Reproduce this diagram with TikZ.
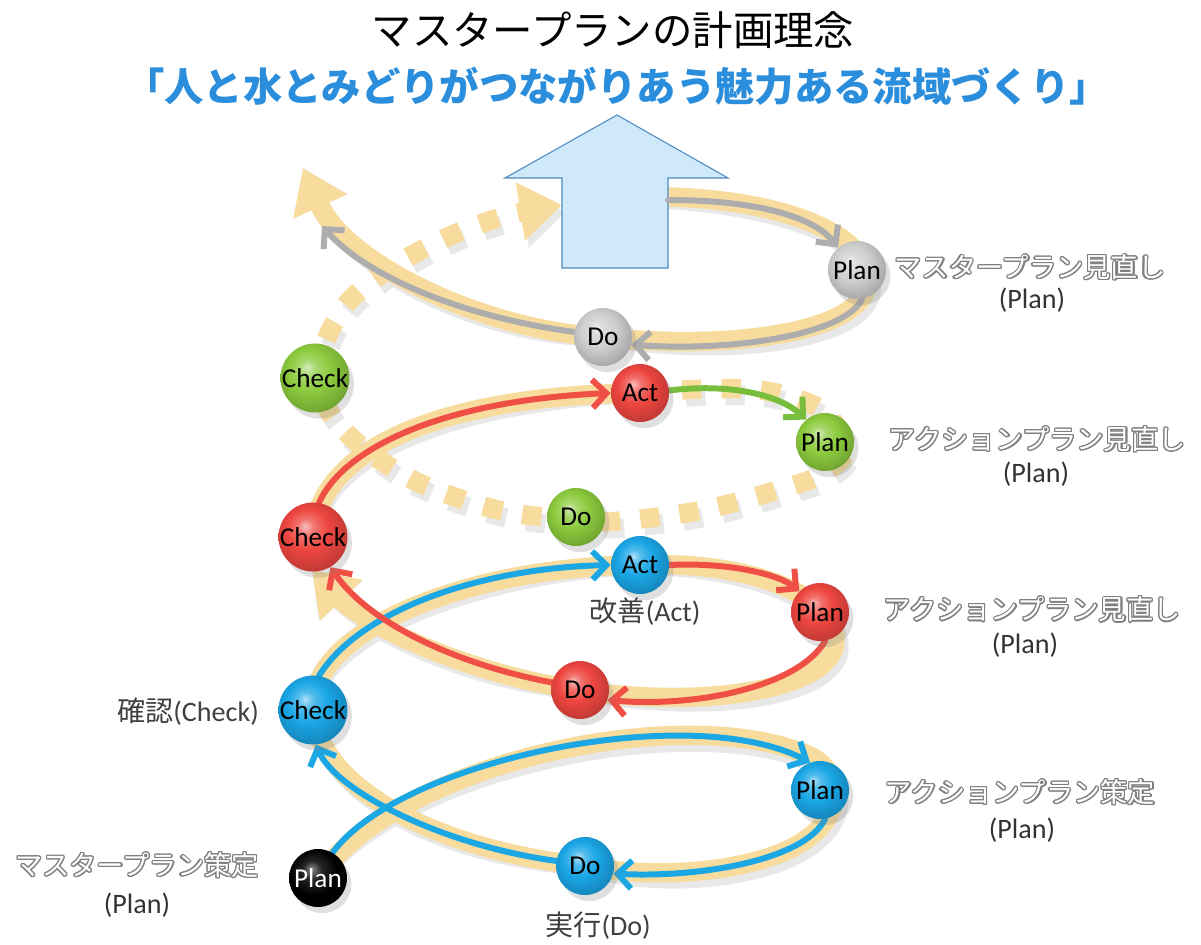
\documentclass[tikz,border=0pt]{standalone}
\usepackage{fontspec}
\setmainfont{Carlito}
\newfontfamily\jp{Noto Sans CJK JP}
\usepackage{contour}
\contourlength{0.7pt}
\usetikzlibrary{arrows.meta,shadows}
\definecolor{bandc}{HTML}{F7DC9E}
\definecolor{cblue}{HTML}{1AA6E6}
\definecolor{cred}{HTML}{EE4640}
\definecolor{cgreen}{HTML}{8CCB3E}
\definecolor{cgray}{HTML}{CFCFCF}
\definecolor{cblack}{HTML}{101010}
\definecolor{ablue}{HTML}{1BA6E4}
\definecolor{ared}{HTML}{EF4F45}
\definecolor{agreen}{HTML}{78BE3C}
\definecolor{agray}{HTML}{ADADAD}
\definecolor{bigfill}{HTML}{CFE9FA}
\definecolor{bigline}{HTML}{4C8BC2}
\definecolor{subc}{HTML}{2B8EDC}
\newcommand\mkball[2]{\pgfdeclareradialshading{#1}{\pgfpoint{-6bp}{8bp}}{color(0bp)=(white!65!#2); color(6bp)=(white!25!#2); color(15bp)=(#2); color(28bp)=(#2!82!black); color(50bp)=(#2!82!black)}}
\mkball{ballblue}{cblue}
\mkball{ballred}{cred}
\mkball{ballgreen}{cgreen}
\mkball{ballgray}{cgray}
\pgfdeclareradialshading{ballblack}{\pgfpoint{-6bp}{8bp}}{color(0bp)=(black!45); color(8bp)=(black!85); color(20bp)=(black); color(50bp)=(black)}
\pgfdeclarelayer{bandl}
\pgfdeclarelayer{arrl}
\pgfsetlayers{bandl,arrl,main}
\newcommand\olab[1]{\contour{black!50}{\textcolor{white}{#1}}}
\newcommand\allbands{%
 \draw[dotband] plot[smooth,tension=0.55] coordinates {(682,390) (760,390) (822,410) (846,450) (822,474) (785,488) (703,510) (620,521) (576,520) (498,510) (417,482) (360,445) (328,410) (318,378)};
 \draw[dotband,bandhead] plot[smooth,tension=0.55] coordinates {(318,378) (326,340) (350,300) (395,265) (450,236) (505,216) (562,205)};
 \draw[band] (P0.center) .. controls (400,760) and (690,700) .. (812,757) .. controls (850,778) and (846,836) .. (760,860) .. controls (700,877) and (630,875) .. (BDo.center);
 \draw[band] (BDo.center) .. controls (440,850) and (318,790) .. (BCheck.center) .. controls (308,630) and (470,566) .. (BAct.center);
 \draw[band] (BAct.center) .. controls (750,560) and (846,598) .. (834,648) .. controls (820,693) and (690,708) .. (RDo.center);
 \draw[band,bandhead] (RDo.center) .. controls (470,675) and (365,625) .. (rhead);
 \draw[band] (RCheck.center) .. controls (318,445) and (450,395) .. (RAct.center);
 \draw[band,bandhead] (gstart) .. controls (760,188) and (882,230) .. (866,290) .. controls (850,335) and (720,350) .. (GyDo.center) .. controls (480,330) and (345,262) .. (ghead);
}
\begin{document}
\begin{tikzpicture}[x=0.02cm,y=-0.02cm,
  ball/.style={circle, minimum size=1.16cm, inner sep=0pt, font=\fontsize{15.5}{16}\selectfont,
    drop shadow={opacity=0.25, shadow xshift=2.5pt, shadow yshift=-3.5pt}},
  band/.style={draw=bandc, line width=11pt},
  dotband/.style={draw=bandc, line width=11pt, dash pattern=on 11pt off 11.5pt},
  bandhead/.style={-{Triangle[length=24pt,width=32pt]}},
  arr/.style={line width=3.4pt, line cap=round, -{Straight Barb[length=8pt,width=16pt]}},
  lab/.style={font=\fontsize{16}{19}\selectfont, text=black!80},
  jlab/.style={font=\jp\fontsize{15.5}{19}\selectfont},
  cjklab/.style={font=\fontsize{16}{19}\selectfont, text=black!75}
]
\begin{pgfonlayer}{bandl}
\fill[white] (0,0) rectangle (1201,944);
\end{pgfonlayer}
\useasboundingbox (0,0) rectangle (1201,944);

% titles
\node[font=\jp\fontsize{23}{26}\selectfont] (title) at (613,30) {マスタープランの計画理念};
\node[text=subc, font=\jp\bfseries\fontsize{22.4}{25}\selectfont] (sub) at (617,86) {「人と水とみどりがつながりあう魅力ある流域づくり」};

% balls
\node[ball, shading=ballblack, text=white] (P0) at (318,878) {Plan};
\node[ball, shading=ballblue] (BDo) at (585,866) {Do};
\node[ball, shading=ballblue] (BPlan) at (820,790) {Plan};
\node[ball, shading=ballblue] (BCheck) at (313,710) {Check};
\node[ball, shading=ballblue] (BAct) at (640,565) {Act};
\node[ball, shading=ballred] (RDo) at (580,690) {Do};
\node[ball, shading=ballred] (RPlan) at (820,612) {Plan};
\node[ball, shading=ballred] (RCheck) at (313,537) {Check};
\node[ball, shading=ballred] (RAct) at (640,393) {Act};
\node[ball, shading=ballgreen] (GDo) at (576,517) {Do};
\node[ball, shading=ballgreen] (GPlan) at (825,442) {Plan};
\node[ball, shading=ballgreen] (GCheck) at (315,378) {Check};
\node[ball, shading=ballgray] (GyDo) at (603,337) {Do};
\node[ball, shading=ballgray] (GyPlan) at (857,270) {Plan};

\coordinate (rhead) at (312,570);
\coordinate (gstart) at (600,198);
\coordinate (ghead) at (303,168);
\coordinate (garr) at (668,200);
\coordinate (gend) at (322,226);

% labels
\node[jlab] (l1) at (137,866) {\olab{マスタープラン策定}};
\node[lab] (l1b) at (137,905) {(Plan)};
\node[cjklab] (l2) at (598,926) {{\jp 実行}(Do)};
\node[cjklab] (l3) at (188,712) {{\jp 確認}(Check)};
\node[cjklab] (l4) at (645,612) {{\jp 改善}(Act)};
\node[jlab] (l5) at (1020,793) {\olab{アクションプラン策定}};
\node[lab] (l5b) at (1022,830) {(Plan)};
\node[jlab] (l6) at (1032,610) {\olab{アクションプラン見直し}};
\node[lab] (l6b) at (1025,645) {(Plan)};
\node[jlab] (l7) at (1037,440) {\olab{アクションプラン見直し}};
\node[lab] (l7b) at (1036,474) {(Plan)};
\node[jlab] (l8) at (1030,268) {\olab{マスタープラン見直し}};
\node[lab] (l8b) at (1032,300) {(Plan)};

% bands with shadow
\begin{pgfonlayer}{bandl}
\begin{scope}[shift={(4,7)},
  band/.style={draw=black!9, line width=11pt},
  dotband/.style={draw=black!9, line width=11pt, dash pattern=on 11pt off 11.5pt}]
\allbands
\end{scope}
\allbands
\end{pgfonlayer}

% coloured arrows
\begin{pgfonlayer}{arrl}
\draw[bigline, fill=bigfill, line width=0.6pt] (562,268) -- (562,178) -- (505,178) -- (617,115) -- (728,178) -- (668,178) -- (668,268) -- cycle;
\draw[arr, draw=ablue] (P0.60) .. controls (400,760) and (690,700) .. (BPlan.110);
\draw[arr, draw=ablue] (BPlan.-80) .. controls (805,860) and (700,878) .. (BDo.-15);
\draw[arr, draw=ablue] (BDo.170) .. controls (440,845) and (335,790) .. (BCheck.-85);
\draw[arr, draw=ablue] (BCheck.80) .. controls (360,610) and (480,568) .. (BAct.180);
\draw[arr, draw=ared] (BAct.0) .. controls (730,562) and (780,575) .. (RPlan.135);
\draw[arr, draw=ared] (RPlan.-80) .. controls (800,685) and (700,708) .. (RDo.-20);
\draw[arr, draw=ared] (RDo.165) .. controls (460,665) and (370,625) .. (RCheck.-60);
\draw[arr, draw=ared] (RCheck.80) .. controls (345,445) and (450,400) .. (RAct.180);
\draw[arr, draw=agreen] (RAct.5) .. controls (730,383) and (780,395) .. (GPlan.130);
\draw[arr, draw=agray] (garr) .. controls (760,200) and (815,218) .. (GyPlan.130);
\draw[arr, draw=agray] (GyPlan.-80) .. controls (845,335) and (730,352) .. (GyDo.-15);
\draw[arr, draw=agray] (GyDo.170) .. controls (470,318) and (370,280) .. (gend);
\end{pgfonlayer}
\end{tikzpicture}
\end{document}
